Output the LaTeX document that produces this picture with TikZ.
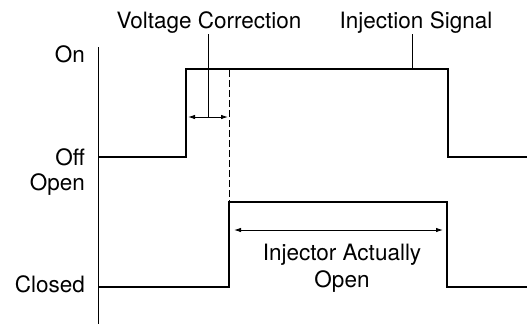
\documentclass[tikz,border=0pt]{standalone}
\usepackage{fontspec}
\setmainfont{TeX Gyre Heros}
\usetikzlibrary{arrows.meta}
\begin{document}
\begin{tikzpicture}[x=1pt,y=-1pt,
  lbl/.style={font=\fontsize{22.5}{27}\selectfont, inner sep=0pt},
  wave/.style={line width=2pt, line join=miter},
  thin/.style={line width=0.9pt},
  dim/.style={line width=0.9pt, {Latex[length=7pt,width=4.5pt]}-{Latex[length=7pt,width=4.5pt]}},
  dashline/.style={line width=1pt, dash pattern=on 7pt off 3pt}]
\useasboundingbox (0,0) rectangle (527,324);
% axis
\coordinate (axT) at (98,47);
\coordinate (axB) at (98,324);
\draw[thin] (axT) -- (axB);
% level labels
\node[lbl, anchor=base east] (on) at (85,62) {On};
\node[lbl, anchor=base east] (off) at (85,165) {Off};
\node[lbl, anchor=base east] (open) at (85,190) {Open};
\node[lbl, anchor=base east] (closed) at (85,292) {Closed};
% injection signal
\coordinate (s0) at (98,157);
\coordinate (s1) at (186,157);
\coordinate (s2) at (186,69);
\coordinate (s3) at (448,69);
\coordinate (s4) at (448,157);
\coordinate (s5) at (527,157);
\draw[wave] (s0) -- (s1) -- (s2) -- (s3) -- (s4) -- (s5);
% injector actual
\coordinate (a0) at (98,287);
\coordinate (a1) at (229,287);
\coordinate (a2) at (229,202);
\coordinate (a3) at (447,202);
\coordinate (a4) at (447,287);
\coordinate (a5) at (527,287);
\draw[wave] (a0) -- (a1) -- (a2) -- (a3) -- (a4) -- (a5);
% dashed line
\coordinate (dT) at (229,70);
\draw[dashline] (dT) -- (a2);
% voltage correction
\coordinate (vL) at (188,117);
\coordinate (vR) at (228,117);
\draw[dim] (vL) -- (vR);
\node[lbl, anchor=base] (vc) at (209,28) {Voltage Correction};
\coordinate (vcT) at (208,34);
\coordinate (vcB) at (208,117);
\draw[thin] (vcT) -- (vcB);
% injection signal label
\node[lbl, anchor=base] (is) at (416,28) {Injection Signal};
\coordinate (isT) at (412,34);
\coordinate (isB) at (412,69);
\draw[thin] (isT) -- (isB);
% injector actually open
\coordinate (iL) at (234,230);
\coordinate (iR) at (443,230);
\draw[dim] (iL) -- (iR);
\node[lbl, anchor=base] (iao1) at (342,260) {Injector Actually};
\node[lbl, anchor=base] (iao2) at (342,287) {Open};
\end{tikzpicture}
\end{document}
